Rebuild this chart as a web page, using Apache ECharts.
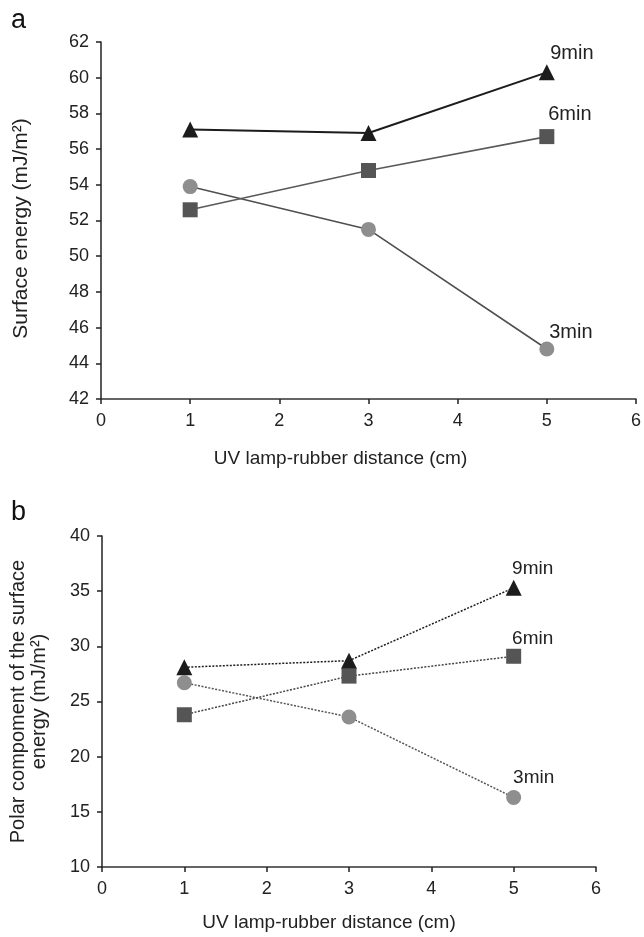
<!DOCTYPE html>
<html>
<head>
<meta charset="utf-8">
<script src="https://cdn.jsdelivr.net/npm/echarts@6/dist/echarts.min.js"></script>
<style>
  html, body { margin: 0; padding: 0; background: #fff; }
  #chart { width: 644px; height: 937px; }
</style>
</head>
<body>
<div id="chart"></div>
<script>
// distances (cm)
const distances = [1, 3, 5];

// panel a: surface energy (mJ/m2)
const totalNine = [57.1, 56.9, 60.3];
const totalSix = [52.6, 54.8, 56.7];
const totalThree = [53.9, 51.5, 44.8];

// panel b: polar component (mJ/m2)
const polarNine = [28.1, 28.7, 35.3];
const polarSix = [23.8, 27.3, 29.1];
const polarThree = [26.7, 23.6, 16.3];

const seriesNames = ['9min', '6min', '3min'];

const font = 'Liberation Sans, Arial, sans-serif';
const chart = echarts.init(document.getElementById('chart'));

function pairs(ys) {
  return distances.map((x, i) => [x, ys[i]]);
}

// put the time label just over the last point
function withEndLabel(ys, name, offset, size) {
  const data = pairs(ys);
  const last = data.length - 1;
  data[last] = {
    value: data[last],
    label: {
      show: true, formatter: name, position: 'top', offset: offset,
      color: '#222', fontSize: size, fontFamily: font
    }
  };
  return data;
}

const styles = [
  { symbol: 'triangle', size: 16, color: '#1c1c1c', line: '#1c1c1c', width: 2, dot: '#1c1c1c' },
  { symbol: 'rect', size: 15, color: '#555555', line: '#5a5a5a', width: 1.6, dot: '#444' },
  { symbol: 'circle', size: 15, color: '#8e8e8e', line: '#4f4f4f', width: 1.6, dot: '#555' }
];

function makeSeries(idx, ysList, dotted, offsets, labelSize) {
  return ysList.map((ys, k) => ({
    type: 'line',
    xAxisIndex: idx,
    yAxisIndex: idx,
    name: seriesNames[k],
    data: withEndLabel(ys, seriesNames[k], offsets[k], labelSize),
    symbol: styles[k].symbol,
    symbolSize: styles[k].size,
    itemStyle: { color: styles[k].color },
    lineStyle: dotted
      ? { color: styles[k].dot, width: 1.5, type: [2, 1.5] }
      : { color: styles[k].line, width: styles[k].width, type: 'solid' },
    z: 3 - k,
    animation: false
  }));
}

const xAxisCommon = {
  type: 'value', min: 0, max: 6, interval: 1,
  axisLine: { lineStyle: { color: '#333', width: 1.5 } },
  axisTick: { show: true, length: 5, lineStyle: { color: '#222', width: 1.5 } },
  axisLabel: { color: '#222', fontSize: 18, fontFamily: font, margin: 13 },
  splitLine: { show: false },
  name: 'UV lamp-rubber distance (cm)',
  nameLocation: 'middle'
};

const yAxisCommon = {
  type: 'value',
  axisLine: { show: true, lineStyle: { color: '#222', width: 1.5 } },
  axisTick: { show: true, length: 5, lineStyle: { color: '#222', width: 1.5 } },
  axisLabel: { color: '#222', fontSize: 18, fontFamily: font, margin: 12 },
  splitLine: { show: false },
  nameLocation: 'middle',
  nameRotate: 90
};

chart.setOption({
  backgroundColor: '#fff',
  animation: false,
  title: [
    { text: 'a', left: 6, top: 2, textStyle: { fontSize: 27, fontWeight: 'normal', color: '#111', fontFamily: font } },
    { text: 'b', left: 6, top: 494, textStyle: { fontSize: 27, fontWeight: 'normal', color: '#111', fontFamily: font } }
  ],
  grid: [
    { left: 101, right: 8, top: 42, bottom: 538 },
    { left: 101, right: 48, top: 536, bottom: 70 }
  ],
  xAxis: [
    Object.assign({}, xAxisCommon, {
      gridIndex: 0,
      nameGap: 50,
      nameTextStyle: { color: '#222', fontSize: 19, fontFamily: font, padding: [0, 56, 0, 0] }
    }),
    Object.assign({}, xAxisCommon, {
      gridIndex: 1,
      nameGap: 46,
      nameTextStyle: { color: '#222', fontSize: 19, fontFamily: font, padding: [0, 40, 0, 0] }
    })
  ],
  yAxis: [
    Object.assign({}, yAxisCommon, {
      gridIndex: 0, min: 42, max: 62, interval: 2,
      name: 'Surface energy (mJ/m\u00b2)', nameGap: 69,
      nameTextStyle: { color: '#222', fontSize: 21, fontFamily: font, padding: [0, 16, 0, 0] }
    }),
    Object.assign({}, yAxisCommon, {
      gridIndex: 1, min: 10, max: 40, interval: 5,
      name: 'Polar compoment of the surface\nenergy (mJ/m\u00b2)', nameGap: 52,
      nameTextStyle: { color: '#222', fontSize: 20, fontFamily: font, lineHeight: 21 }
    })
  ],
  series: [
    ...makeSeries(0, [totalNine, totalSix, totalThree], false, [[25, 4], [23, 0], [24, 6]], 20),
    ...makeSeries(1, [polarNine, polarSix, polarThree], true, [[19, 3], [19, 5], [20, 2]], 19)
  ]
});
</script>
</body>
</html>
